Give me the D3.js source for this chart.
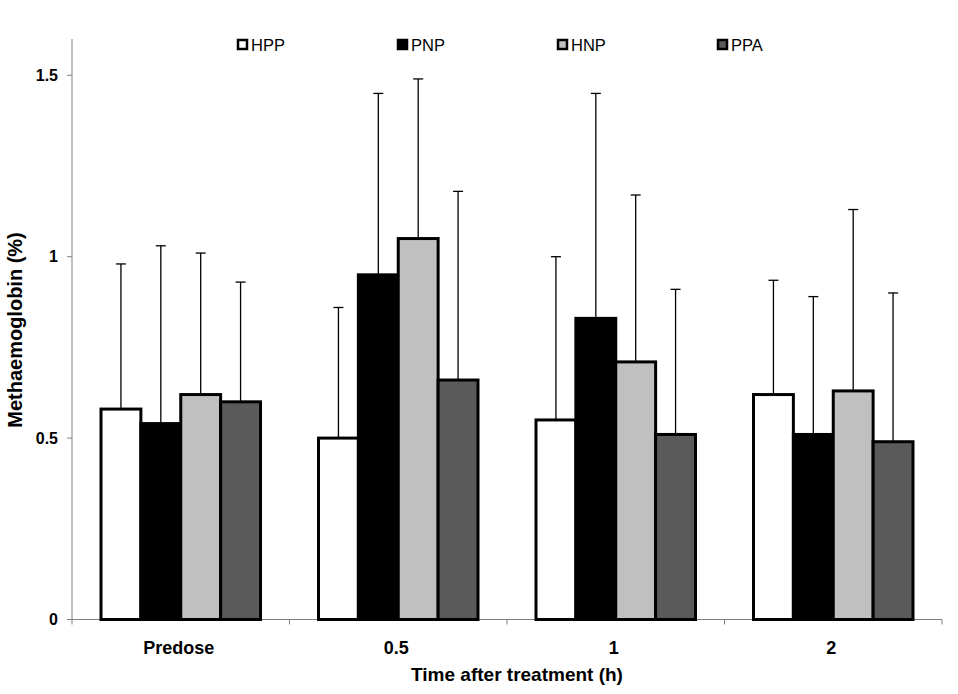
<!DOCTYPE html>
<html><head><meta charset="utf-8">
<script src="https://cdn.jsdelivr.net/npm/d3@7"></script>
<style>body{margin:0;background:#fff;} text{font-family:"Liberation Sans",Arial,sans-serif;}</style>
</head><body>
<svg id="chart" width="958" height="694"></svg>
<script>
const categories = ["Predose", "0.5", "1", "2"];
const seriesNames = ["HPP", "PNP", "HNP", "PPA"];
const seriesColors = ["#ffffff", "#000000", "#c0c0c0", "#5a5a5a"];
const hpp = [0.58, 0.50, 0.55, 0.62];
const pnp = [0.54, 0.95, 0.83, 0.51];
const hnp = [0.62, 1.05, 0.71, 0.63];
const ppa = [0.60, 0.66, 0.51, 0.49];
const hppSD = [0.40, 0.36, 0.45, 0.315];
const pnpSD = [0.49, 0.50, 0.62, 0.38];
const hnpSD = [0.39, 0.44, 0.46, 0.50];
const ppaSD = [0.33, 0.52, 0.40, 0.41];
const yTicks = [0, 0.5, 1, 1.5];
const yTickLabels = ["0", "0.5", "1", "1.5"];

(function () {
const means = [hpp, pnp, hnp, ppa];
const sds = [hppSD, pnpSD, hnpSD, ppaSD];

const svg = d3.select("#chart");
const mLeft = 72, mRight = 942, mTop = 39, mBottom = 619.5;

const x = d3.scaleBand().domain(categories).range([mLeft, mRight]).paddingInner(0).paddingOuter(0);
const y = d3.scaleLinear().domain([0, 1.6]).range([mBottom, mTop]);
const groupPad = 29;
const xs = d3.scaleBand().domain(seriesNames).range([groupPad, x.bandwidth() - groupPad]).padding(0);

svg.append("line").attr("x1", mLeft).attr("x2", mLeft).attr("y1", mTop).attr("y2", mBottom)
  .attr("stroke", "#808080").attr("stroke-width", 1);
svg.append("line").attr("x1", mLeft).attr("x2", mRight).attr("y1", mBottom).attr("y2", mBottom)
  .attr("stroke", "#808080").attr("stroke-width", 1);

yTicks.forEach((t, i) => {
  svg.append("line").attr("x1", mLeft - 5).attr("x2", mLeft).attr("y1", y(t)).attr("y2", y(t))
    .attr("stroke", "#808080");
  svg.append("text").attr("x", 58).attr("y", y(t)).attr("dy", "0.36em")
    .attr("text-anchor", "end").attr("font-size", 16).attr("font-weight", "bold")
    .text(yTickLabels[i]);
});

categories.forEach((c, i) => {
  svg.append("line").attr("x1", x(c)).attr("x2", x(c)).attr("y1", mBottom).attr("y2", mBottom + 5)
    .attr("stroke", "#808080");
  svg.append("text").attr("x", x(c) + x.bandwidth() / 2 - 2).attr("y", 654)
    .attr("text-anchor", "middle").attr("font-size", 18).attr("font-weight", "bold")
    .text(c);
});
svg.append("line").attr("x1", mRight).attr("x2", mRight).attr("y1", mBottom).attr("y2", mBottom + 5)
  .attr("stroke", "#808080");

seriesNames.forEach((s, si) => {
  categories.forEach((c, ci) => {
    const bx = x(c) + xs(s);
    const v = means[si][ci];
    const sd = sds[si][ci];
    const cx = bx + xs.bandwidth() / 2;
    svg.append("line").attr("x1", cx).attr("x2", cx).attr("y1", y(v)).attr("y2", y(v + sd))
      .attr("stroke", "#000").attr("stroke-width", 1.3);
    svg.append("line").attr("x1", cx - 5).attr("x2", cx + 5).attr("y1", y(v + sd)).attr("y2", y(v + sd))
      .attr("stroke", "#000").attr("stroke-width", 1.3);
  });
});
seriesNames.forEach((s, si) => {
  categories.forEach((c, ci) => {
    const bx = x(c) + xs(s);
    const v = means[si][ci];
    svg.append("rect").attr("x", bx).attr("y", y(v)).attr("width", xs.bandwidth())
      .attr("height", y(0) - y(v)).attr("fill", seriesColors[si])
      .attr("stroke", "#000").attr("stroke-width", 3);
  });
});

const legX = [238, 398, 558, 718];
seriesNames.forEach((s, i) => {
  svg.append("rect").attr("x", legX[i]).attr("y", 40).attr("width", 9).attr("height", 9)
    .attr("fill", seriesColors[i]).attr("stroke", "#000").attr("stroke-width", 2.5);
  svg.append("text").attr("x", legX[i] + 13).attr("y", 45).attr("dy", "0.36em")
    .attr("font-size", 16.5).text(s);
});

svg.append("text").attr("x", 517).attr("y", 681).attr("text-anchor", "middle")
  .attr("font-size", 19).attr("font-weight", "bold").text("Time after treatment (h)");
svg.append("text").attr("transform", "translate(22,330) rotate(-90)").attr("text-anchor", "middle")
  .attr("font-size", 20).attr("font-weight", "bold").text("Methaemoglobin (%)");
})();
</script>
</body></html>
